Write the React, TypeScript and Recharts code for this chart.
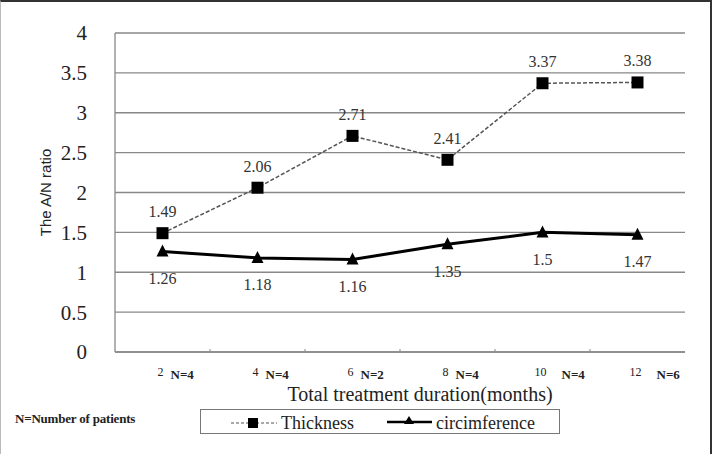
import { CartesianGrid, LabelList, Line, LineChart, XAxis, YAxis } from "recharts";

const months = [2, 4, 6, 8, 10, 12];
const patients = ["N=4", "N=4", "N=2", "N=4", "N=4", "N=6"];
const thickness = [1.49, 2.06, 2.71, 2.41, 3.37, 3.38];
const circumference = [1.26, 1.18, 1.16, 1.35, 1.5, 1.47];
const yTicks = [0, 0.5, 1, 1.5, 2, 2.5, 3, 3.5, 4];
const xTicks = [2, 3, 4, 5, 6, 7, 8, 9, 10, 11, 12];

const data = months.map((m, i) => ({
  month: m,
  n: patients[i],
  thickness: thickness[i],
  circumference: circumference[i],
}));

const serif = '"Liberation Serif", "DejaVu Serif", serif';

function SquareDot(props: any) {
  const { cx, cy } = props;
  if (cx == null || cy == null) return null;
  return <rect x={cx - 6} y={cy - 6} width={12} height={12} fill="#000" />;
}

function TriangleDot(props: any) {
  const { cx, cy } = props;
  if (cx == null || cy == null) return null;
  return <path d={`M${cx},${cy - 7} L${cx + 6},${cy + 5} L${cx - 6},${cy + 5} Z`} fill="#000" />;
}

function MonthTick(props: any) {
  const { x, y, payload } = props;
  const v = payload.value;
  if (v % 2 === 1) {
    return <line x1={x} x2={x} y1={y - 3} y2={y} stroke="#888" strokeWidth={1} />;
  }
  const idx = months.indexOf(v);
  return (
    <g>
      <text x={x - 2} y={y + 24} textAnchor="middle" fontSize={12} fontFamily={serif} fill="#222">
        {v}
      </text>
      <text
        x={x + (v >= 10 ? 19 : 8)}
        y={y + 27}
        fontSize={13}
        fontFamily={serif}
        fill="#222"
        fontWeight="bold"
      >
        {patients[idx]}
      </text>
    </g>
  );
}

export default function App() {
  return (
    <div
      style={{
        position: "fixed",
        left: 0,
        top: 0,
        width: 716,
        height: 454,
        background: "#fff",
        fontFamily: serif,
      }}
    >
      <div
        style={{
          position: "absolute",
          left: 0,
          top: 0,
          width: 709,
          height: 460,
          borderTop: "2px solid #333",
          borderRight: "2px solid #333",
          borderLeft: "1px solid #bbb",
        }}
      />
      <LineChart width={716} height={454} data={data} margin={{ top: 33, right: 31, left: 55, bottom: 52 }}>
        <CartesianGrid vertical={false} stroke="#888" strokeWidth={1.3} />
        <XAxis
          dataKey="month"
          type="number"
          domain={[1, 13]}
          ticks={xTicks}
          interval={0}
          tickSize={0}
          tickMargin={0}
          tickLine={false}
          axisLine={{ stroke: "#888", strokeWidth: 1.3 }}
          height={50}
          tick={<MonthTick />}
          label={{
            value: "Total treatment duration(months)",
            position: "insideBottom",
            offset: 1,
            dx: 20,
            fontSize: 20,
            fontFamily: serif,
            fill: "#222",
          }}
        />
        <YAxis
          domain={[0, 4]}
          ticks={yTicks}
          interval={0}
          width={60}
          tickLine={false}
          tickMargin={22}
          axisLine={{ stroke: "#888", strokeWidth: 1.3 }}
          tick={{ fontSize: 21, fontFamily: serif, fill: "#222" }}
          label={{
            value: "The A/N ratio",
            angle: -90,
            position: "insideLeft",
            dx: -14,
            dy: 0,
            fontSize: 15,
            fontFamily: '"Liberation Sans", Arial, sans-serif',
            fill: "#222",
            style: { textAnchor: "middle" },
          }}
        />
        <Line
          dataKey="thickness"
          stroke="#555"
          strokeWidth={1.5}
          strokeDasharray="4 2"
          dot={<SquareDot />}
          isAnimationActive={false}
        >
          <LabelList dataKey="thickness" position="top" offset={16} fontSize={16} fontFamily={serif} fill="#333" />
        </Line>
        <Line
          dataKey="circumference"
          stroke="#000"
          strokeWidth={3}
          dot={<TriangleDot />}
          isAnimationActive={false}
        >
          <LabelList dataKey="circumference" position="bottom" offset={21} fontSize={16} fontFamily={serif} fill="#333" />
        </Line>
      </LineChart>
      <div
        style={{
          position: "absolute",
          left: 15,
          top: 411,
          fontSize: 13,
          fontWeight: "bold",
          fontFamily: serif,
          color: "#222",
          letterSpacing: -0.2,
        }}
      >
        N=Number of patients
      </div>
      <div
        style={{
          position: "absolute",
          left: 200,
          top: 409,
          width: 360,
          height: 25,
          border: "1px solid #777",
          boxSizing: "border-box",
        }}
      >
        <svg width={360} height={25} style={{ position: "absolute", left: 0, top: 0 }}>
          <line x1={30} x2={76} y1={13} y2={13} stroke="#555" strokeWidth={1.2} strokeDasharray="3 2" />
          <rect x={47} y={8} width={10} height={10} fill="#000" />
          <text x={80} y={19} fontSize={18} fontFamily={serif} fill="#222">
            Thickness
          </text>
          <line x1={186} x2={231} y1={12} y2={12} stroke="#000" strokeWidth={2.5} />
          <path d="M208,6 L213,14 L203,14 Z" fill="#000" />
          <text x={235} y={19} fontSize={18} fontFamily={serif} fill="#222">
            circimference
          </text>
        </svg>
      </div>
    </div>
  );
}
